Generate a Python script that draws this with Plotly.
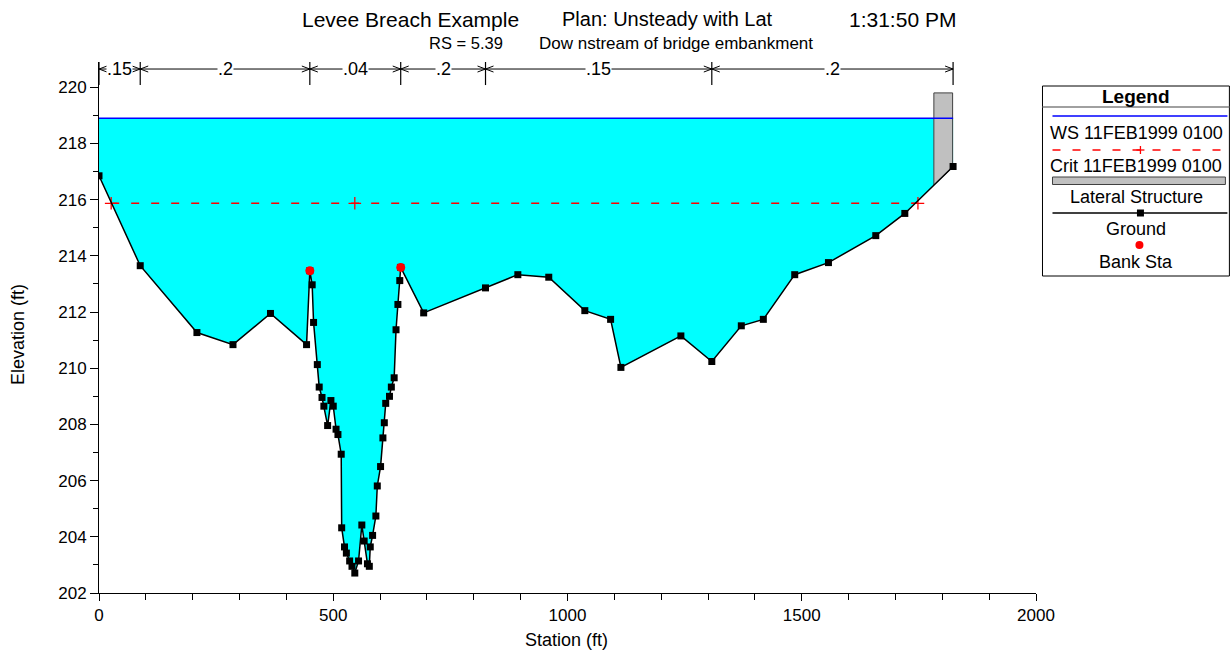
import plotly.graph_objects as go

# ---------------- data ----------------
stations = [0, 88, 209, 286, 366, 443, 450, 455, 458, 466, 470, 476, 480, 488, 495, 500,
            506, 510, 517, 518, 524, 528, 535, 540, 546, 554, 561, 566, 573, 577, 579, 584,
            591, 594, 601, 606, 609, 612, 620, 624, 630, 634, 638, 642, 644, 693, 825, 894,
            960, 1037, 1092, 1114, 1242, 1308, 1371, 1418, 1485, 1557, 1658, 1720, 1823]
ground = [216.85, 213.65, 211.27, 210.84, 211.95, 210.84, 213.47, 212.97, 211.63, 210.13,
          209.33, 208.96, 208.65, 207.96, 208.85, 208.65, 207.83, 207.64, 206.94, 204.32,
          203.64, 203.42, 203.14, 202.95, 202.71, 203.14, 204.42, 203.85, 203.04, 202.95,
          203.64, 204.05, 204.74, 205.81, 206.50, 207.52, 208.06, 208.75, 209.00, 209.33,
          209.66, 211.37, 212.27, 213.12, 213.59, 211.97, 212.86, 213.33, 213.24, 212.05,
          211.74, 210.03, 211.15, 210.24, 211.51, 211.74, 213.33, 213.76, 214.72, 215.51,
          217.18]

ws_elev = 218.9
ws_x = [0, 1823]
crit_elev = 215.87
crit_x = [26, 546, 1748]

bank_x = [450, 644]
bank_y = [213.47, 213.59]

lat_x = [1782, 1822]
lat_top = 219.8
lat_bottom = [216.52, 217.15]

n_breaks = [0, 88, 450, 644, 825, 1308, 1823]
n_values = [".15", ".2", ".04", ".2", ".15", ".2"]

x_ticks = [0, 500, 1000, 1500, 2000]
y_ticks = [202, 204, 206, 208, 210, 212, 214, 216, 218, 220]

# ---------------- layout geometry (pixel coords) ----------------
W, H = 1231, 654
L, R, T, B = 99, 1036.5, 62, 593
X_RANGE = [0, 2000]
Y_RANGE = [202, 220.9]
FONT = "Liberation Sans, Arial, sans-serif"

def fx(p):
    return (p - L) / (R - L)

def fy(p):
    return (B - p) / (B - T)

ppx = (R - L) / (X_RANGE[1] - X_RANGE[0])   # pixels per ft (x)
ppy = (B - T) / (Y_RANGE[1] - Y_RANGE[0])   # pixels per ft (y)

fig = go.Figure()

# water fill
fig.add_trace(go.Scatter(
    x=stations + [stations[-1], stations[0]],
    y=ground + [ws_elev, ws_elev],
    fill="toself", fillcolor="#00FFFF", mode="lines",
    line=dict(width=0), hoverinfo="skip", showlegend=False))

# lateral structure
fig.add_trace(go.Scatter(
    x=[lat_x[0], lat_x[1], lat_x[1], lat_x[0], lat_x[0]],
    y=[lat_top, lat_top, lat_bottom[1], lat_bottom[0], lat_top],
    fill="toself", fillcolor="#C0C0C0", mode="lines",
    line=dict(color="#404040", width=1), showlegend=False))

# water surface
fig.add_trace(go.Scatter(
    x=ws_x, y=[ws_elev] * len(ws_x), mode="lines",
    line=dict(color="#0000FF", width=1.5), showlegend=False))

# critical
fig.add_trace(go.Scatter(
    x=crit_x, y=[crit_elev] * len(crit_x), mode="lines+markers",
    line=dict(color="#FF0000", width=1.5, dash="8px,12px"),
    marker=dict(symbol="cross-thin", size=9, line=dict(color="#FF0000", width=1.3)),
    showlegend=False))

# ground
fig.add_trace(go.Scatter(
    x=stations, y=ground, mode="lines+markers",
    line=dict(color="black", width=1.5),
    marker=dict(symbol="square", size=7, color="black"),
    showlegend=False))

# bank stations
fig.add_trace(go.Scatter(
    x=bank_x, y=bank_y, mode="markers",
    marker=dict(symbol="circle", size=9, color="#FF0000"),
    showlegend=False))

shapes = []
annotations = []

# n-value brackets above the section
y_line = 220.65
y_v0, y_v1 = 220.08, 220.9
adx = 8 / ppx
ady = 3 / ppy
for s in n_breaks:
    shapes.append(dict(type="line", xref="x", yref="y", x0=s, x1=s, y0=y_v0, y1=y_v1,
                       line=dict(color="black", width=1.2)))
shapes.append(dict(type="line", xref="x", yref="y", x0=n_breaks[0], x1=n_breaks[-1],
                   y0=y_line, y1=y_line, line=dict(color="black", width=1)))
for i, nv in enumerate(n_values):
    a, b = n_breaks[i], n_breaks[i + 1]
    shapes.append(dict(type="path", xref="x", yref="y",
                       path=f"M {a+adx},{y_line+ady} L {a},{y_line} L {a+adx},{y_line-ady}",
                       line=dict(color="black", width=1)))
    shapes.append(dict(type="path", xref="x", yref="y",
                       path=f"M {b-adx},{y_line+ady} L {b},{y_line} L {b-adx},{y_line-ady}",
                       line=dict(color="black", width=1)))
    annotations.append(dict(x=(a + b) / 2, y=y_line, xref="x", yref="y", text=nv,
                            showarrow=False, bgcolor="white", borderpad=0,
                            font=dict(size=18, color="black", family=FONT),
                            xanchor="center", yanchor="middle"))

def txt(x, y, t, size, angle=0):
    return dict(x=fx(x), y=fy(y), xref="paper", yref="paper", text=t, textangle=angle,
                showarrow=False, font=dict(size=size, color="black", family=FONT),
                xanchor="center", yanchor="middle")

# titles
annotations += [
    txt(410.5, 19, "Levee Breach Example", 21),
    txt(667.5, 19, "Plan: Unsteady with Lat", 20),
    txt(903, 19, "1:31:50 PM", 21),
    txt(466, 43, "RS = 5.39", 16.5),
    txt(676, 43, "Dow nstream of bridge embankment", 17),
    txt(567, 640, "Station (ft)", 18),
    txt(18, 335, "Elevation (ft)", 18, -90),
]

# custom legend box
LX0, LX1, LY0, LY1 = 1043, 1230, 86, 276
LC = 1137
def pshape(**kw):
    d = dict(xref="paper", yref="paper")
    d.update(kw)
    return d

shapes += [
    pshape(type="rect", x0=fx(LX0), x1=fx(LX1), y0=fy(LY1), y1=fy(LY0),
           line=dict(color="black", width=1), fillcolor="white"),
    pshape(type="line", x0=fx(LX0), x1=fx(LX1), y0=fy(107), y1=fy(107),
           line=dict(color="#808080", width=1.5)),
    pshape(type="line", x0=fx(1053), x1=fx(1228), y0=fy(116), y1=fy(116),
           line=dict(color="#0000FF", width=1.5)),
    pshape(type="line", x0=fx(1053), x1=fx(1228), y0=fy(150), y1=fy(150),
           line=dict(color="#FF0000", width=1.5, dash="8px,12px")),
    pshape(type="line", x0=fx(1141), x1=fx(1141), y0=fy(146), y1=fy(154),
           line=dict(color="#FF0000", width=1.3)),
    pshape(type="line", x0=fx(1137), x1=fx(1145), y0=fy(150), y1=fy(150),
           line=dict(color="#FF0000", width=1.3)),
    pshape(type="rect", x0=fx(1053), x1=fx(1226), y0=fy(184.5), y1=fy(177),
           line=dict(color="#404040", width=1), fillcolor="#C0C0C0"),
    pshape(type="line", x0=fx(1053), x1=fx(1228), y0=fy(213), y1=fy(213),
           line=dict(color="black", width=1.5)),
    pshape(type="rect", x0=fx(1137.5), x1=fx(1144.5), y0=fy(216.5), y1=fy(209.5),
           line=dict(color="black", width=0), fillcolor="black"),
    pshape(type="circle", x0=fx(1136), x1=fx(1144), y0=fy(249), y1=fy(241),
           line=dict(color="#FF0000", width=0), fillcolor="#FF0000"),
]
annotations.append(txt(LC, 96, "<b>Legend</b>", 19))
for t, yy in [("WS 11FEB1999 0100", 133), ("Crit 11FEB1999 0100", 166),
              ("Lateral Structure", 197), ("Ground", 229), ("Bank Sta", 262)]:
    annotations.append(txt(LC, yy, t, 18))

fig.update_layout(
    width=W, height=H,
    margin=dict(l=L, r=W - R, t=T, b=H - B, pad=0),
    paper_bgcolor="white", plot_bgcolor="white",
    font=dict(family=FONT, color="black"),
    showlegend=False,
    shapes=shapes, annotations=annotations,
    xaxis=dict(range=X_RANGE, tickvals=x_ticks, ticks="outside", ticklen=7, tickwidth=1,
               tickcolor="black", showline=True, linecolor="black", linewidth=1,
               showgrid=False, zeroline=False, tickfont=dict(size=17),
               minor=dict(tickvals=list(range(0, 2001, 100)), ticks="outside", ticklen=6,
                          tickcolor="black", showgrid=False)),
    yaxis=dict(range=Y_RANGE, tickvals=y_ticks, ticks="outside", ticklen=8, tickwidth=1,
               tickcolor="black", showline=True, linecolor="black", linewidth=1,
               showgrid=False, zeroline=False, tickfont=dict(size=17),
               minor=dict(tickvals=list(range(202, 221, 1)), ticks="outside", ticklen=5,
                          tickcolor="black", showgrid=False)),
)

# remove the browser's default page margin so the figure fills the window exactly
fig.write_html("out.html",
               config={"displayModeBar": False},
               post_script="document.body.style.margin='0';"
                           "document.documentElement.style.overflow='hidden';")
